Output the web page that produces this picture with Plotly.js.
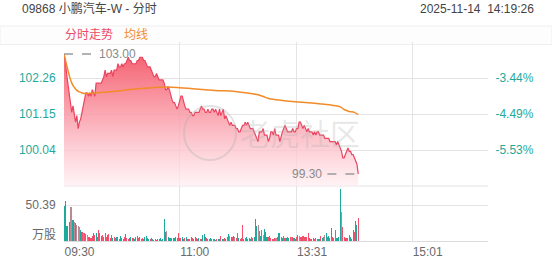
<!DOCTYPE html>
<html>
<head>
<meta charset="utf-8">
<script src="https://cdn.plot.ly/plotly-3.0.1.min.js"></script>
<style>html,body{margin:0;padding:0;background:#fff;}#chart{width:552px;height:265px;}</style>
</head>
<body>
<div id="chart"></div>
<script>
// ---- data (minute index from 09:30; HK session = 330 minutes) ----
const tickIdx = [0, 90, 181, 271, 330];
const tickLabels = ['09:30', '11:00', '13:31', '15:01', ''];
const priceTicks = [102.26, 101.15, 100.04];
const pctLabels = ['-3.44%', '-4.49%', '-5.53%'];
const volTicks = [50.39];

const price = [
103.0,102.8,102.4,102.1,101.9,101.6,101.2,101.4,101.1,100.9,
101.1,100.7,100.9,101.0,101.2,101.4,101.7,101.8,101.8,101.7,
101.8,101.7,101.9,101.8,101.7,102.1,102.1,102.1,102.1,102.1,
102.2,102.3,102.5,102.3,102.4,102.4,102.4,102.5,102.3,102.5,
102.5,102.5,102.7,102.6,102.6,102.7,102.6,102.7,102.7,102.8,
102.9,102.8,102.8,102.7,102.7,102.7,102.7,102.8,102.8,102.9,
102.9,102.9,102.8,102.8,102.7,102.6,102.6,102.6,102.5,102.4,
102.3,102.3,102.4,102.3,102.2,102.2,102.2,102.2,102.1,101.9,
101.9,102.0,101.9,101.7,101.6,101.5,101.5,101.4,101.3,101.4,
101.6,101.7,101.7,101.5,101.4,101.3,101.3,101.3,101.2,101.2,
101.1,101.1,101.2,101.2,101.2,101.2,101.3,101.4,101.3,101.3,
101.2,101.2,101.3,101.2,101.2,101.3,101.3,101.2,101.3,101.2,
101.1,101.3,101.1,101.2,101.3,101.0,101.1,101.0,100.9,100.8,
100.9,100.8,100.8,100.8,100.7,100.7,100.6,100.6,100.7,100.8,
100.8,100.9,100.8,100.9,100.8,100.7,100.7,100.7,100.6,100.5,
100.4,100.3,100.6,100.6,100.6,100.7,100.5,100.5,100.5,100.3,
100.4,100.6,100.6,100.5,100.7,100.5,100.5,100.5,100.3,100.5,
100.6,100.7,100.8,100.7,100.6,100.6,100.6,100.6,100.7,100.6,
100.6,100.7,100.7,100.9,100.9,100.8,100.7,100.8,100.7,100.6,
100.7,100.6,100.6,100.6,100.5,100.6,100.5,100.6,100.6,100.5,
100.5,100.5,100.5,100.4,100.4,100.4,100.4,100.3,100.3,100.3,
100.3,100.3,100.2,100.3,100.2,100.1,100.0,99.8,99.8,99.9,
100.0,100.1,100.0,100.0,99.9,99.9,99.8,99.7,99.6,99.3
];

const avgIdx = [0,2,4,6,8,10,12,14,17,20,25,30,40,50,60,70,80,90,100,110,120,130,140,150,155,160,170,180,190,200,210,215,218,222,226,229];
const avgVal = [103.00,102.66,102.35,102.11,101.97,101.88,101.83,101.80,101.78,101.79,101.80,101.82,101.85,101.90,101.94,101.97,101.98,101.96,101.93,101.90,101.87,101.86,101.81,101.75,101.69,101.62,101.57,101.53,101.50,101.46,101.41,101.37,101.29,101.23,101.20,101.13];

const volume = [
48.9,56.0,21.4,20.4,26.0,47.5,47.5,30.0,26.0,25.2,
22.8,20.4,19.5,15.7,13.3,11.9,10.9,9.5,8.6,6.2,
6.2,3.8,7.1,10.9,8.6,11.9,6.2,15.2,10.9,7.1,
8.6,6.2,10.9,5.2,8.6,10.0,3.8,8.6,3.8,6.2,
3.8,6.2,5.2,3.3,7.1,3.8,2.9,6.2,10.0,3.8,
2.4,3.8,6.2,4.8,3.8,2.9,6.2,7.1,3.8,6.2,
2.9,3.8,2.4,6.2,7.1,3.8,2.9,2.4,3.8,2.4,
1.9,3.3,1.9,2.9,2.4,3.8,1.9,2.9,30.9,13.3,
14.3,5.2,3.8,4.8,4.3,4.8,3.8,5.2,3.8,10.9,
4.8,3.8,6.2,2.9,3.8,5.2,2.9,2.4,2.9,5.2,
3.8,2.4,6.2,3.8,2.9,4.8,2.4,2.9,8.1,9.5,
6.2,4.8,2.9,2.4,3.8,2.9,2.4,2.9,1.9,2.9,
2.4,2.4,7.1,2.4,2.9,3.8,2.4,5.2,9.5,7.1,
6.2,6.2,7.1,6.2,3.8,10.9,3.8,2.9,3.8,22.8,
2.4,3.8,6.2,2.9,3.8,2.4,6.2,3.8,6.2,31.4,
21.4,22.8,14.3,7.1,15.7,8.6,16.6,13.3,6.2,6.2,
7.6,3.8,2.9,2.4,3.8,3.8,6.2,10.9,11.9,6.2,
4.8,7.1,3.8,4.8,6.2,3.8,5.2,5.2,6.2,3.8,
2.9,6.2,8.6,7.1,6.2,6.2,7.1,6.2,5.2,6.2,
10.9,3.8,2.4,2.9,3.8,2.9,3.8,2.4,2.9,2.9,
7.1,3.8,6.2,8.6,11.9,6.2,7.1,3.8,18.5,6.2,
4.8,15.7,3.8,4.8,5.2,72.7,40.4,19.5,6.2,3.8,
4.8,3.8,8.6,6.2,2.9,16.0,12.0,27.6,23.0,32.3
];

// 1 = up (red), -1 = down (teal), 0 = flat (mauve)
const volDir = [
-1,-1,-1,-1,-1,0,0,-1,0,-1,
0,0,0,-1,1,0,1,1,0,1,
-1,1,1,-1,1,-1,1,1,1,-1,
1,1,1,1,-1,1,1,1,-1,1,
1,-1,1,1,-1,1,1,1,-1,1,
1,-1,-1,1,1,-1,1,1,1,-1,
1,1,1,-1,-1,1,-1,1,-1,-1,
1,-1,1,-1,-1,-1,1,-1,-1,-1,
0,-1,-1,-1,1,-1,-1,-1,-1,1,
-1,1,-1,-1,1,-1,-1,1,-1,-1,
1,-1,-1,1,1,-1,1,-1,-1,-1,
-1,1,1,1,-1,1,1,-1,1,1,
-1,1,1,-1,1,1,-1,1,-1,0,
-1,1,-1,0,1,1,-1,1,1,1,
-1,1,-1,1,1,-1,1,1,-1,-1,
-1,0,1,-1,1,0,-1,-1,-1,1,
-1,1,1,1,1,0,1,-1,-1,1,
-1,1,1,-1,1,-1,1,0,1,-1,
1,1,1,0,1,-1,1,1,-1,1,
1,-1,1,-1,1,1,-1,1,-1,1,
1,-1,1,0,-1,1,-1,1,-1,1,
1,1,-1,-1,-1,-1,0,1,1,-1,
1,1,1,-1,1,-1,1,-1,-1,1
];

// ---- styling ----
const W = 552, H = 265;
const PL = 64, PR = 488, MAIN_TOP = 42, MAIN_BOT = 186, VOL_BOT = 241;
const priceRange = [98.93, 103.37];
const volRange = [0, 76.98];
const FONT = 'Liberation Sans, Noto Sans CJK SC, sans-serif';
const TEAL = '#1ea99a', RED = '#f2506c', MAUVE = '#b98a96', ORANGE = '#f28b28';
const GRID = '#e4e4e4';

const idx = price.map((_, i) => i);
const barColors = volDir.map(d => d > 0 ? RED : (d < 0 ? TEAL : MAUVE));

let maxI = 0, minI = 0;
price.forEach((p, i) => { if (p > price[maxI]) maxI = i; if (p < price[minI]) minI = i; });

const traces = [
  {
    type: 'scatter', mode: 'lines', x: idx, y: price, xaxis: 'x', yaxis: 'y',
    line: {color: '#ec4460', width: 1.2},
    fill: 'tozeroy',
    fillgradient: {type: 'vertical', start: priceRange[0], stop: price[maxI],
      colorscale: [[0, 'rgba(255,238,241,0.7)'], [0.5, 'rgba(250,160,172,0.85)'], [1, 'rgba(244,88,104,0.95)']]},
    hoverinfo: 'skip'
  },
  {
    type: 'scatter', mode: 'lines', x: avgIdx, y: avgVal, xaxis: 'x', yaxis: 'y',
    line: {color: ORANGE, width: 1.5, shape: 'spline'}, hoverinfo: 'skip'
  },
  {
    type: 'scatter', mode: 'markers', x: [idx[0]], y: [price[0]], xaxis: 'x', yaxis: 'y2',
    marker: {opacity: 0}, hoverinfo: 'skip'
  },
  {
    type: 'bar', x: idx, y: volume, xaxis: 'x', yaxis: 'y3',
    marker: {color: barColors, line: {width: 0}}, width: 0.8, hoverinfo: 'skip'
  }
];

const px = v => v / W;
const py = v => 1 - v / H;

const layout = {
  width: W, height: H,
  margin: {l: 0, r: 0, t: 0, b: 0},
  paper_bgcolor: '#ffffff', plot_bgcolor: 'rgba(0,0,0,0)',
  showlegend: false,
  font: {family: FONT, size: 12, color: '#666'},
  bargap: 0,
  xaxis: {
    domain: [px(PL), px(PR)], range: [0, 330], anchor: 'y3',
    tickmode: 'array', tickvals: tickIdx, ticktext: tickLabels,
    showgrid: true, gridcolor: GRID, gridwidth: 1, zeroline: false,
    showline: true, linecolor: '#dcdcdc', ticks: '',
    ticklabelposition: 'outside right',
    tickfont: {family: FONT, size: 12, color: '#6a6a6a'}
  },
  yaxis: {
    domain: [1 - MAIN_BOT / H, 1 - MAIN_TOP / H], range: priceRange, anchor: 'x',
    tickmode: 'array', tickvals: priceTicks, ticktext: priceTicks.map(v => v.toFixed(2)),
    showgrid: true, gridcolor: GRID, zeroline: false, showline: false,
    ticks: 'outside', ticklen: 5, tickcolor: 'rgba(0,0,0,0)',
    tickfont: {family: FONT, size: 12, color: TEAL}
  },
  yaxis2: {
    overlaying: 'y', side: 'right', range: priceRange, anchor: 'x',
    tickmode: 'array', tickvals: priceTicks, ticktext: pctLabels,
    showgrid: false, zeroline: false, showline: false,
    ticks: 'outside', ticklen: 4, tickcolor: 'rgba(0,0,0,0)',
    tickfont: {family: FONT, size: 12, color: TEAL}
  },
  yaxis3: {
    domain: [1 - VOL_BOT / H, 1 - MAIN_BOT / H], range: volRange, anchor: 'x',
    tickmode: 'array', tickvals: volTicks, ticktext: volTicks.map(v => v.toFixed(2)),
    showgrid: true, gridcolor: GRID, zeroline: false, showline: false,
    ticks: 'outside', ticklen: 5, tickcolor: 'rgba(0,0,0,0)',
    tickfont: {family: FONT, size: 12, color: '#6a6a6a'}
  },
  shapes: [
    // header band
    {type: 'rect', xref: 'paper', yref: 'paper', x0: 0, x1: 1, y0: py(44.5), y1: py(26),
     fillcolor: '#fdfdfd', line: {color: '#efefef', width: 1}, layer: 'below'},
    // divider between price and volume panes
    {type: 'line', xref: 'x domain', yref: 'y domain', x0: 0, x1: 1, y0: 0, y1: 0,
     line: {color: GRID, width: 1}, layer: 'below'},
    // watermark circle
    {type: 'circle', xref: 'paper', yref: 'paper', x0: px(184), x1: px(236), y0: py(160), y1: py(106),
     line: {color: 'rgba(175,175,175,0.35)', width: 2}, layer: 'above'},
    // high / low dashed markers
    {type: 'line', xref: 'x', yref: 'y', x0: maxI, x1: maxI + 23, y0: price[maxI], y1: price[maxI],
     line: {color: '#9a9a9a', width: 1.5, dash: 'dash'}},
    {type: 'line', xref: 'x', yref: 'y', x0: minI - 24, x1: minI, y0: price[minI], y1: price[minI],
     line: {color: '#9a9a9a', width: 1.5, dash: 'dash'}}
  ],
  annotations: [
    {text: '09868 小鹏汽车-W - 分时', xref: 'paper', yref: 'paper', x: px(20), y: py(9),
     xanchor: 'left', yanchor: 'middle', showarrow: false, font: {family: FONT, size: 12, color: '#444'}},
    {text: '2025-11-14\u00a0\u00a014:19:26', xref: 'paper', yref: 'paper', x: px(536), y: py(9),
     xanchor: 'right', yanchor: 'middle', showarrow: false, font: {family: FONT, size: 12, color: '#444'}},
    {text: '分时走势', xref: 'paper', yref: 'paper', x: px(63), y: py(35),
     xanchor: 'left', yanchor: 'middle', showarrow: false, font: {family: FONT, size: 12, color: '#ee4a66'}},
    {text: '均线', xref: 'paper', yref: 'paper', x: px(122), y: py(35),
     xanchor: 'left', yanchor: 'middle', showarrow: false, font: {family: FONT, size: 12, color: '#f28b2e'}},
    {text: '万股', xref: 'paper', yref: 'paper', x: px(58), y: py(235),
     xanchor: 'right', yanchor: 'middle', showarrow: false, font: {family: FONT, size: 12, color: '#6a6a6a'}},
    {text: '老虎社区', xref: 'paper', yref: 'paper', x: px(300), y: py(132),
     xanchor: 'center', yanchor: 'middle', showarrow: false,
     font: {family: 'Noto Sans CJK SC, sans-serif', size: 30, color: 'rgba(175,175,175,0.28)'}},
    {text: price[maxI].toFixed(2), xref: 'x', yref: 'y', x: maxI + 26, y: price[maxI],
     xanchor: 'left', yanchor: 'middle', showarrow: false, font: {family: FONT, size: 12, color: '#8a8a8a'}},
    {text: price[minI].toFixed(2), xref: 'x', yref: 'y', x: minI - 27, y: price[minI],
     xanchor: 'right', yanchor: 'middle', showarrow: false, font: {family: FONT, size: 12, color: '#8a8a8a'}}
  ]
};

Plotly.newPlot('chart', traces, layout, {staticPlot: true, displayModeBar: false});
</script>
</body>
</html>
